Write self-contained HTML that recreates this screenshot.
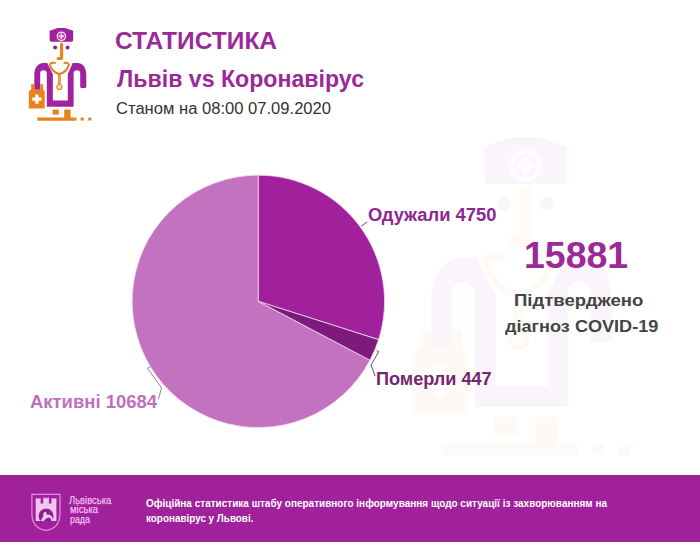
<!DOCTYPE html>
<html lang="uk">
<head>
<meta charset="utf-8">
<title>Статистика Львів vs Коронавірус</title>
<style>
html,body{margin:0;padding:0;background:#fff;}
body{width:700px;height:542px;position:relative;overflow:hidden;font-family:"Liberation Sans",sans-serif;}
.t{position:absolute;white-space:nowrap;line-height:1;margin:0;padding:0;transform-origin:0 0;}
#gfx{position:absolute;left:0;top:0;}
#footer{position:absolute;left:0;top:475px;width:700px;height:67px;background:#a1219c;box-shadow:inset 0 1px 0 #8c2a88;}
#h1{left:115.3px;top:30px;font-size:23.2px;font-weight:bold;color:#9b2a98;transform:scaleX(1.058);}
#h2{left:117px;top:67.7px;font-size:23px;font-weight:bold;color:#9b2a98;transform:scaleX(1.0063);}
#h3{left:116.2px;top:100.8px;font-size:16px;color:#333;transform:scaleX(1.0361);}
#l1{left:367.5px;top:207.4px;font-size:17.6px;font-weight:bold;color:#8f2590;transform:scaleX(1.0431);}
#l2{left:375.8px;top:371.1px;font-size:17.6px;font-weight:bold;color:#76256f;transform:scaleX(1.0281);}
#l3{left:30.2px;top:393.5px;font-size:17.6px;font-weight:bold;color:#c06fbd;transform:scaleX(1.049);}
#big{left:524.2px;top:237.9px;font-size:36.5px;font-weight:bold;color:#9b2a98;transform:scaleX(1.026);}
#c1{left:514.4px;top:291.8px;font-size:17.4px;font-weight:bold;color:#444;transform:scaleX(1.0667);}
#c2{left:505px;top:318.4px;font-size:17.4px;font-weight:bold;color:#444;transform:scaleX(1.0405);}
#f1{left:145.9px;top:497.5px;font-size:10.8px;font-weight:bold;color:#fff;transform:scaleX(0.9251);}
#f2{left:146.2px;top:513.1px;font-size:10.8px;font-weight:bold;color:#fff;transform:scaleX(0.9155);}
#g1{left:69.3px;top:494.5px;font-size:11px;color:#f3bff1;-webkit-text-stroke:0.25px #f3bff1;transform:scaleX(0.8566);}
#g2{left:69.5px;top:504.4px;font-size:11px;color:#f3bff1;-webkit-text-stroke:0.25px #f3bff1;transform:scaleX(0.8661);}
#g3{left:70px;top:513.8px;font-size:11px;color:#f3bff1;-webkit-text-stroke:0.25px #f3bff1;transform:scaleX(0.8042);}
</style>
</head>
<body>
<div id="footer"></div>
<svg id="gfx" width="700" height="542" viewBox="0 0 700 542">
<defs>
<g id="doc">
  <!-- hat -->
  <path fill="#a1229e" d="M57.7 28 H65.1 L73.2 30.8 V40 Q73.2 41.7 71.5 41.7 H51.3 Q49.6 41.7 49.6 40 V30.8 Z"/>
  <circle cx="61.4" cy="36.3" r="4.1" fill="none" stroke="#f5d0f3" stroke-width="1.5"/>
  <path d="M61.4 33.6 V39 M58.7 36.3 H64.1" stroke="#f5d0f3" stroke-width="1.9" fill="none"/>
  <!-- eyes -->
  <circle cx="55.1" cy="47.4" r="2" fill="#8e2290"/>
  <circle cx="67.6" cy="47.4" r="2" fill="#8e2290"/>
  <!-- nose -->
  <path d="M61.6 44.2 V58.5 H58.2" fill="none" stroke="#e8821e" stroke-width="3.1" stroke-linecap="round" stroke-linejoin="round"/>
  <!-- coat -->
  <path fill="#a1229e" d="M34.3 89.8 V75.3 C34.3 67 38.5 63.1 43.5 63.1 H47.3 L52.85 74.3 V100.5 H67.8 V74.3 L72.6 63.1 H77.5 C82.5 63.1 86.3 67 86.3 75.3 V86.5 Q86.3 88 84.8 88 H81.7 Q80.2 88 80.2 86.5 V73.5 A3.3 3.3 0 0 0 73.6 73.5 V106.7 H46.8 V73.5 A3.3 3.3 0 0 0 40.2 73.5 V89.8 Z"/>
  <!-- stethoscope -->
  <path d="M54.9 62.9 Q50.3 62.2 50 64.9 Q52.2 72.4 59.4 74 Q66.6 72.4 68.8 64.9 Q68.5 62.2 64.3 62.9" fill="none" stroke="#e8821e" stroke-width="2" stroke-linecap="round" stroke-linejoin="round"/>
  <path d="M59.4 74 V84.5" fill="none" stroke="#e8821e" stroke-width="2.7"/>
  <path d="M59.4 75.5 V84" fill="none" stroke="#f6c089" stroke-width="0.8"/>
  <circle cx="59.4" cy="87" r="2.5" fill="#fbe6cf" stroke="#e8821e" stroke-width="1.2"/>
  <!-- bag -->
  <path fill="#e8821e" d="M28.8 91.5 L30.5 89.8 H31.2 V84.2 H34.3 V89.8 H40.2 V84.2 H43.2 V89.8 H43.3 L44.7 91.5 V108.5 H28.8 Z"/>
  <path d="M36.9 94.6 V103.8 M32.3 99.2 H41.5" stroke="#fff" stroke-width="3.2" fill="none"/>
  <!-- feet / ground -->
  <path fill="#e8821e" d="M37.5 117.6 H64.2 V109.6 H70.6 V117.6 H76.5 V120.7 H37.5 Z"/>
  <rect x="52.5" y="109.6" width="6.3" height="5" fill="#e8821e"/>
  <rect x="80.6" y="117.6" width="3.2" height="2.9" fill="#e8821e"/>
  <rect x="88.2" y="117.6" width="3.2" height="2.9" fill="#e8821e"/>
</g>
</defs>
<!-- watermark -->
<g opacity="0.04" transform="translate(312.4 41) scale(3.47 3.43)"><use href="#doc"/></g>
<!-- small icon -->
<use href="#doc"/>
<!-- pie -->
<g stroke="#f3d9f2" stroke-width="0.8" stroke-linejoin="round">
<path fill="#c372c0" d="M258.35 301.35 L369.98 360.22 A126.2 126.2 0 1 1 258.35 175.15 Z"/>
<path fill="#a1209b" d="M258.35 301.35 L258.35 175.15 A126.2 126.2 0 0 1 378.59 339.67 Z"/>
<path fill="#7d1a7c" d="M258.35 301.35 L378.59 339.67 A126.2 126.2 0 0 1 369.98 360.22 Z"/>
</g>
<!-- logo -->
<g id="logo">
<path d="M31.9 494.4 H60 V514 C60 524 54 529.4 46 530.4 C38 529.4 31.9 524 31.9 514 Z" fill="none" stroke="#e48fe0" stroke-width="1.2"/>
<path fill="#f3c7f1" d="M35.7 498 h1.1 v1 h0.8 v-1 h1.1 v1 h0.8 v-1 h1.1 v5.5 h2.6 v-6 h1.2 v1 h1 v-1 h1.3 v1 h1 v-1 h1.2 v6 h2.6 v-5.5 h1.1 v1 h0.8 v-1 h1.1 v1 h0.8 v-1 h1.1 V521 H35.7 Z"/>
<circle cx="46.05" cy="516" r="7.5" fill="#8f1f8d"/>
<rect x="38" y="521" width="17" height="3" fill="#a1219c"/>
<path d="M40.6 521 L43.2 516.6 L43.4 513 L45 511.8 L46.4 512.6 L46.6 514.6 L49.6 514.8 L52 516.6 L53.2 521 L51.4 521 L50.6 518.2 L48.2 517.6 L45.6 519 L43.8 521 Z" fill="#f3c7f1"/>
</g>
<!-- leaders -->
<path d="M361.2 226.1 L367.2 221.9" stroke="#6e4a70" stroke-width="1" fill="none"/>
<path d="M376.5 350.6 L378.8 351.6 L371 365 L375.2 376.2" stroke="#6e4a70" stroke-width="1" fill="none"/>
<path d="M150.4 366.8 L147.4 368.2 L161.6 388 L158.4 399" stroke="#a07aa0" stroke-width="1" fill="none"/>
</svg>
<div class="t" id="h1">СТАТИСТИКА</div>
<div class="t" id="h2">Львів vs Коронавірус</div>
<div class="t" id="h3">Станом на 08:00 07.09.2020</div>
<div class="t" id="l1">Одужали 4750</div>
<div class="t" id="l2">Померли 447</div>
<div class="t" id="l3">Активні 10684</div>
<div class="t" id="big">15881</div>
<div class="t" id="c1">Підтверджено</div>
<div class="t" id="c2">діагноз COVID-19</div>
<div class="t" id="g1">Львівська</div>
<div class="t" id="g2">міська</div>
<div class="t" id="g3">рада</div>
<div class="t" id="f1">Офіційна статистика штабу оперативного інформування щодо ситуації із захворюванням на</div>
<div class="t" id="f2">коронавірус у Львові.</div>
</body>
</html>
